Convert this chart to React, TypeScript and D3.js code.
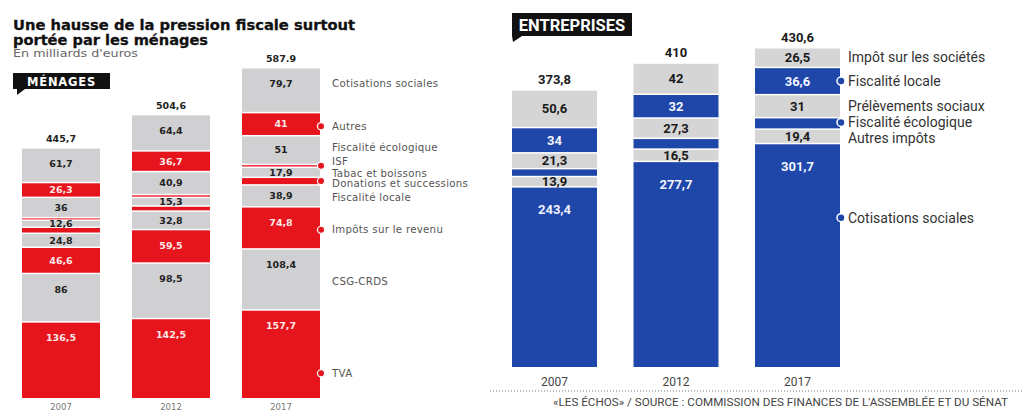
import React from "react";
import * as d3 from "d3";

const YEARS = ["2007", "2012", "2017"];

// Ménages (bottom to top)
const MEN_CATS = [
  "TVA",
  "CSG-CRDS",
  "Impôts sur le revenu",
  "Fiscalité locale",
  "Donations et successions",
  "Tabac et boissons",
  "ISF",
  "Fiscalité écologique",
  "Autres",
  "Cotisations sociales",
];
const MEN_COLORED = [true, false, true, false, true, false, true, false, true, false];
const MEN_2007 = [136.5, 86, 46.6, 24.8, 10.8, 12.6, 4.4, 36, 26.3, 61.7];
const MEN_2012 = [142.5, 98.5, 59.5, 32.8, 9, 15.3, 5, 40.9, 36.7, 64.4];
const MEN_2017 = [157.7, 108.4, 74.8, 38.9, 13.5, 17.9, 5, 51, 41, 79.7];
const MEN_SHOW_VALUE = [true, true, true, true, false, true, false, true, true, true];
const MEN_TOTALS = ["445,7", "504,6", "587.9"];

// Entreprises (bottom to top)
const ENT_CATS = [
  "Cotisations sociales",
  "Autres impôts",
  "Fiscalité écologique",
  "Prélèvements sociaux",
  "Fiscalité locale",
  "Impôt sur les sociétés",
];
const ENT_COLORED = [true, false, true, false, true, false];
const ENT_2007 = [243.4, 13.9, 10.6, 21.3, 34, 50.6];
const ENT_2012 = [277.7, 16.5, 14.5, 27.3, 32, 42];
const ENT_2017 = [301.7, 19.4, 15.4, 31, 36.6, 26.5];
const ENT_SHOW_VALUE = [true, true, false, true, true, true];
const ENT_TOTALS = ["373,8", "410", "430,6"];

// layout-only label shifts (px), per category
const MEN_LABEL_DY = [19, 2, 2, 2, 2, 1, -4, -3, 2, -7];
const ENT_LABEL_DY = [-38, 2, -1, 0, 0, 0];

const RED = "#e5141d";
const BLUE = "#1f46a9";
const GRAY_L = "#d0d0d2";
const GRAY_R = "#d5d5d6";

const fmt = (v: number) => String(v).replace(".", ",");

type Seg = { cat: number; y0: number; y1: number; v: number };

function stack(vals: number[]): Seg[] {
  let c = 0;
  return vals.map((v, i) => {
    const s = { cat: i, y0: c, y1: c + v, v };
    c += v;
    return s;
  });
}

export default function App() {
  // LEFT PANEL
  const xL = d3
    .scaleBand<string>()
    .domain(YEARS)
    .range([22, 320])
    .paddingInner(32 / 110)
    .paddingOuter(0);
  const yL = d3.scaleLinear().domain([0, 587.9]).range([398, 67]);
  const menData = [MEN_2007, MEN_2012, MEN_2017].map(stack);

  // RIGHT PANEL
  const xR = d3
    .scaleBand<string>()
    .domain(YEARS)
    .range([512, 840])
    .paddingInner(36.5 / 121.5)
    .paddingOuter(0);
  const yR = d3.scaleLinear().domain([0, 430.6]).range([367, 47]);
  const entData = [ENT_2007, ENT_2012, ENT_2017].map(stack);

  const gap = 1.5;

  const sansL = "'DejaVu Sans', Verdana, sans-serif";
  const sansR = "Roboto, 'Noto Sans', sans-serif";

  const menLastX = (xL("2017") as number) + xL.bandwidth();
  const entLastX = (xR("2017") as number) + xR.bandwidth();

  return (
    <svg width={1024} height={410} style={{ position: "absolute", left: 0, top: 0, background: "#fff" }}>
      {/* Title */}
      <text x={13} y={30} fontFamily={sansL} fontWeight={700} fontSize={14} fill="#111" textLength={342} lengthAdjust="spacingAndGlyphs" stroke="#111" strokeWidth={0.3}>
        Une hausse de la pression fiscale surtout
      </text>
      <text x={13} y={45} fontFamily={sansL} fontWeight={700} fontSize={14} fill="#111" textLength={195} lengthAdjust="spacingAndGlyphs" stroke="#111" strokeWidth={0.3}>
        portée par les ménages
      </text>
      <text x={13} y={57} fontFamily={sansL} fontSize={10.5} fill="#666" textLength={125} lengthAdjust="spacingAndGlyphs">
        En milliards d'euros
      </text>

      {/* MÉNAGES badge */}
      <rect x={13} y={73} width={97} height={16} fill="#111" />
      <path d="M17,89 L25,89 L17,95 Z" fill="#111" />
      <text x={61.5} y={85.5} textAnchor="middle" fontFamily={sansL} fontWeight={700} fontSize={11.5} fill="#fff" letterSpacing={0.8}>
        MÉNAGES
      </text>

      {/* Left bars */}
      {menData.map((segs, yi) => {
        const year = YEARS[yi];
        const x0 = xL(year) as number;
        const bw = xL.bandwidth();
        const top = yL(segs[segs.length - 1].y1);
        return (
          <g key={"m" + year}>
            {segs.map((s) => {
              const yTop = yL(s.y1) + gap;
              const h = Math.max(1, yL(s.y0) - yL(s.y1) - gap);
              return (
                <rect key={s.cat} x={x0} y={yTop} width={bw} height={h} fill={MEN_COLORED[s.cat] ? RED : GRAY_L} />
              );
            })}
            {segs.map((s) => {
              if (!MEN_SHOW_VALUE[s.cat]) return null;
              const yTop = yL(s.y1) + gap;
              const yBot = yL(s.y0);
              const cy = Math.min((yTop + yBot) / 2, yTop + 15);
              return (
                <text
                  key={"t" + s.cat}
                  x={x0 + bw / 2}
                  y={cy}
                  dy="0.35em"
                  textAnchor="middle"
                  fontFamily={sansL}
                  fontWeight={700}
                  fontSize={9.5}
                  fill={MEN_COLORED[s.cat] ? "#fde8e8" : "#222"}
                >
                  {fmt(s.v)}
                </text>
              );
            })}
            <text x={x0 + bw / 2} y={top - 5} textAnchor="middle" fontFamily={sansL} fontWeight={700} fontSize={9.5} fill="#222">
              {MEN_TOTALS[yi]}
            </text>
            <text x={x0 + bw / 2} y={409.5} textAnchor="middle" fontFamily={sansL} fontSize={8.5} fill="#777">
              {year}
            </text>
          </g>
        );
      })}

      {/* Left category labels */}
      {menData[2].map((s) => {
        const yTop = yL(s.y1) + gap;
        const yBot = yL(s.y0);
        const cy = (yTop + yBot) / 2;
        const ly = cy + MEN_LABEL_DY[s.cat];
        const dotY = yBot - yTop > 20 ? ly : cy;
        return (
          <g key={"ml" + s.cat}>
            {MEN_COLORED[s.cat] && (
              <circle cx={menLastX + 1} cy={dotY} r={3.6} fill={RED} stroke="#fff" strokeWidth={1.2} />
            )}
            <text x={332} y={ly} dy="0.35em" fontFamily={sansL} fontSize={10.2} fill="#555" letterSpacing={0.3}>
              {MEN_CATS[s.cat]}
            </text>
          </g>
        );
      })}

      {/* ENTREPRISES badge */}
      <rect x={512} y={13} width={120} height={23} fill="#111" />
      <path d="M512,36 L522,36 L513,42 Z" fill="#111" />
      <text x={572} y={30.5} textAnchor="middle" fontFamily={sansR} fontWeight={700} fontSize={16.5} fill="#fff">
        ENTREPRISES
      </text>

      {/* Right bars */}
      {entData.map((segs, yi) => {
        const year = YEARS[yi];
        const x0 = xR(year) as number;
        const bw = xR.bandwidth();
        const top = yR(segs[segs.length - 1].y1);
        return (
          <g key={"e" + year}>
            {segs.map((s) => {
              const yTop = yR(s.y1) + gap;
              const h = Math.max(1, yR(s.y0) - yR(s.y1) - gap);
              return (
                <rect key={s.cat} x={x0} y={yTop} width={bw} height={h} fill={ENT_COLORED[s.cat] ? BLUE : GRAY_R} />
              );
            })}
            {segs.map((s) => {
              if (!ENT_SHOW_VALUE[s.cat]) return null;
              const yTop = yR(s.y1) + gap;
              const yBot = yR(s.y0);
              const cy = Math.min((yTop + yBot) / 2, yTop + 22);
              return (
                <text
                  key={"t" + s.cat}
                  x={x0 + bw / 2}
                  y={cy}
                  dy="0.35em"
                  textAnchor="middle"
                  fontFamily={sansR}
                  fontWeight={700}
                  fontSize={13}
                  fill={ENT_COLORED[s.cat] ? "#f2f4ff" : "#1a1a1a"}
                >
                  {fmt(s.v)}
                </text>
              );
            })}
            <text x={x0 + bw / 2} y={top - 5} textAnchor="middle" fontFamily={sansR} fontWeight={700} fontSize={13} fill="#1a1a1a">
              {ENT_TOTALS[yi]}
            </text>
            <text x={x0 + bw / 2} y={386} textAnchor="middle" fontFamily={sansR} fontSize={12} fill="#444">
              {year}
            </text>
          </g>
        );
      })}

      {/* Right category labels */}
      {entData[2].map((s) => {
        const yTop = yR(s.y1) + gap;
        const yBot = yR(s.y0);
        const cy = (yTop + yBot) / 2;
        const ly = cy + ENT_LABEL_DY[s.cat];
        return (
          <g key={"el" + s.cat}>
            {ENT_COLORED[s.cat] && (
              <circle cx={entLastX + 1} cy={ly} r={4} fill={BLUE} stroke="#fff" strokeWidth={1.5} />
            )}
            <text x={848} y={ly} dy="0.35em" fontFamily={sansR} fontSize={14} fill="#333">
              {ENT_CATS[s.cat]}
            </text>
          </g>
        );
      })}

      {/* Dotted separator and source */}
      <line x1={490} x2={1024} y1={391} y2={391} stroke="#777" strokeWidth={1} strokeDasharray="1,2" />
      <text x={553} y={406} fontFamily={sansR} fontSize={11} fill="#444" textLength={455} lengthAdjust="spacingAndGlyphs">
        «LES ÉCHOS» / SOURCE :  COMMISSION DES FINANCES DE L'ASSEMBLÉE ET DU SÉNAT
      </text>
    </svg>
  );
}
